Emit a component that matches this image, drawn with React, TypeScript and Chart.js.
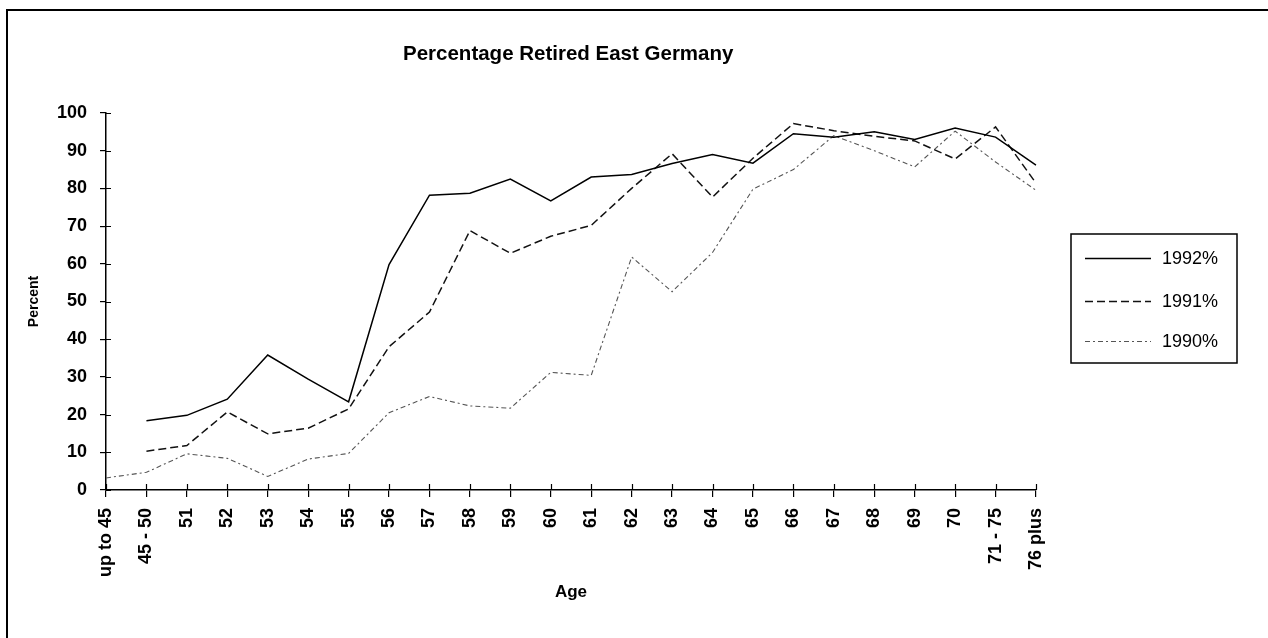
import React, { useEffect, useRef } from "react";
import { Chart, registerables } from "chart.js";

Chart.register(...registerables);

const categories = [
  "up to 45", "45 - 50", "51", "52", "53", "54", "55", "56", "57", "58", "59", "60",
  "61", "62", "63", "64", "65", "66", "67", "68", "69", "70", "71 - 75", "76 plus",
];

const series1992 = [
  null, 18.4, 19.8, 24.1, 35.8, 29.4, 23.4, 59.8, 78.2, 78.7, 82.5, 76.7,
  83, 83.7, 86.6, 89, 86.7, 94.5, 93.6, 95, 93, 96, 93.6, 86.2,
];

const series1991 = [
  null, 10.3, 11.8, 20.7, 14.9, 16.4, 21.5, 38, 47.2, 68.8, 62.8, 67.3,
  70.2, 80, 89.2, 77.7, 88, 97.2, 95.3, 93.8, 92.6, 87.8, 96.3, 81.4,
];

const series1990 = [
  3.2, 4.7, 9.6, 8.4, 3.6, 8.2, 9.7, 20.5, 24.8, 22.3, 21.7, 31.2,
  30.4, 61.8, 52.6, 63, 79.8, 85, 94, 90, 85.7, 95.2, 87, 79.5,
];

const seriesNames = ["1992%", "1991%", "1990%"];
const yTicks = { min: 0, max: 100, step: 10 };
const chartTitle = "Percentage Retired East Germany";
const xTitle = "Age";
const yTitle = "Percent";

const FONT = "'Liberation Sans', Arial, Helvetica, sans-serif";

const dashStyles: number[][] = [[], [8, 4], [5, 3, 2, 3]];
const lineColors = ["#000000", "#111111", "#555555"];
const lineWidths = [1.5, 1.5, 1.1];

const decorPlugin = {
  id: "decor",
  afterDraw(chart: any) {
    const ctx = chart.ctx as CanvasRenderingContext2D;
    const xs = chart.scales.x;
    const ys = chart.scales.y;
    const area = chart.chartArea;
    ctx.save();
    // inner halves of crossing ticks
    ctx.strokeStyle = "#000";
    ctx.lineWidth = 1.2;
    ctx.beginPath();
    ys.ticks.forEach((t: any) => {
      const y = Math.round(ys.getPixelForValue(t.value)) + 0.5;
      ctx.moveTo(area.left, y);
      ctx.lineTo(area.left + 5, y);
    });
    xs.ticks.forEach((_t: any, i: number) => {
      const x = Math.round(xs.getPixelForTick(i)) + 0.5;
      ctx.moveTo(x, area.bottom);
      ctx.lineTo(x, area.bottom - 6);
    });
    ctx.stroke();

    // title
    ctx.fillStyle = "#000";
    ctx.font = `bold 20.5px ${FONT}`;
    ctx.textAlign = "left";
    ctx.textBaseline = "middle";
    ctx.fillText(chartTitle, 403, 54);

    // legend
    const bx = 1071, by = 234, bw = 166, bh = 129;
    ctx.lineWidth = 1.5;
    ctx.strokeStyle = "#000";
    ctx.setLineDash([]);
    ctx.strokeRect(bx, by, bw, bh);
    const rows = [258, 301, 341];
    chart.data.datasets.forEach((ds: any, i: number) => {
      const y = rows[i] + 0.5;
      ctx.beginPath();
      ctx.setLineDash(ds.borderDash || []);
      ctx.strokeStyle = ds.borderColor;
      ctx.lineWidth = ds.borderWidth;
      ctx.moveTo(1085, y);
      ctx.lineTo(1151, y);
      ctx.stroke();
      ctx.setLineDash([]);
      ctx.fillStyle = "#000";
      ctx.font = `18px ${FONT}`;
      ctx.textAlign = "left";
      ctx.textBaseline = "middle";
      ctx.fillText(ds.label, 1162, rows[i] + 1);
    });
    ctx.restore();
  },
};

export default function App() {
  const ref = useRef<HTMLCanvasElement | null>(null);

  useEffect(() => {
    if (!ref.current) return;
    const allSeries = [series1992, series1991, series1990];
    const chart = new Chart(ref.current, {
      type: "line",
      data: {
        labels: categories,
        datasets: allSeries.map((d, i) => ({
          label: seriesNames[i],
          data: d,
          borderColor: lineColors[i],
          borderWidth: lineWidths[i],
          borderDash: dashStyles[i],
          pointRadius: 0,
          tension: 0,
          fill: false,
          spanGaps: false,
        })),
      },
      options: {
        animation: false,
        responsive: false,
        maintainAspectRatio: false,
        devicePixelRatio: 1,
        layout: { padding: { left: 0, top: 113, right: 232, bottom: 0 } },
        plugins: {
          legend: { display: false },
          title: { display: false },
          tooltip: { enabled: false },
        },
        scales: {
          x: {
            type: "category",
            offset: false,
            afterFit: (s: any) => {
              s.height = 148;
            },
            grid: {
              display: true,
              drawOnChartArea: false,
              drawTicks: true,
              tickLength: 7,
              color: "#000",
              lineWidth: 1.2,
            },
            border: { display: true, color: "#000", width: 1.5 },
            ticks: {
              autoSkip: false,
              maxRotation: 90,
              minRotation: 90,
              padding: 11,
              color: "#000",
              font: { family: FONT, size: 18, weight: "bold" },
            },
            title: {
              display: true,
              text: xTitle,
              color: "#000",
              font: { family: FONT, size: 17, weight: "bold" },
              padding: { top: 0, bottom: 35 },
            },
          },
          y: {
            min: yTicks.min,
            max: yTicks.max,
            afterFit: (s: any) => {
              s.width = 106;
            },
            grid: {
              display: true,
              drawOnChartArea: false,
              drawTicks: true,
              tickLength: 6,
              color: "#000",
              lineWidth: 1.2,
            },
            border: { display: true, color: "#000", width: 1.5 },
            ticks: {
              stepSize: yTicks.step,
              padding: 13,
              color: "#000",
              font: { family: FONT, size: 18, weight: "bold" },
            },
            title: {
              display: true,
              text: yTitle,
              color: "#000",
              font: { family: FONT, size: 14, weight: "bold" },
              padding: { top: 26, bottom: 0 },
            },
          },
        },
      },
      plugins: [decorPlugin],
    });
    return () => chart.destroy();
  }, []);

  return (
    <div style={{ position: "fixed", left: 0, top: 0, width: 1268, height: 638, background: "#fff" }}>
      <div
        style={{
          position: "absolute",
          left: 6,
          top: 9,
          width: 1270,
          height: 640,
          borderLeft: "2px solid #000",
          borderTop: "2px solid #000",
        }}
      />
      <canvas
        ref={ref}
        width={1268}
        height={638}
        style={{ position: "absolute", left: 0, top: 0, width: 1268, height: 638 }}
      />
    </div>
  );
}
